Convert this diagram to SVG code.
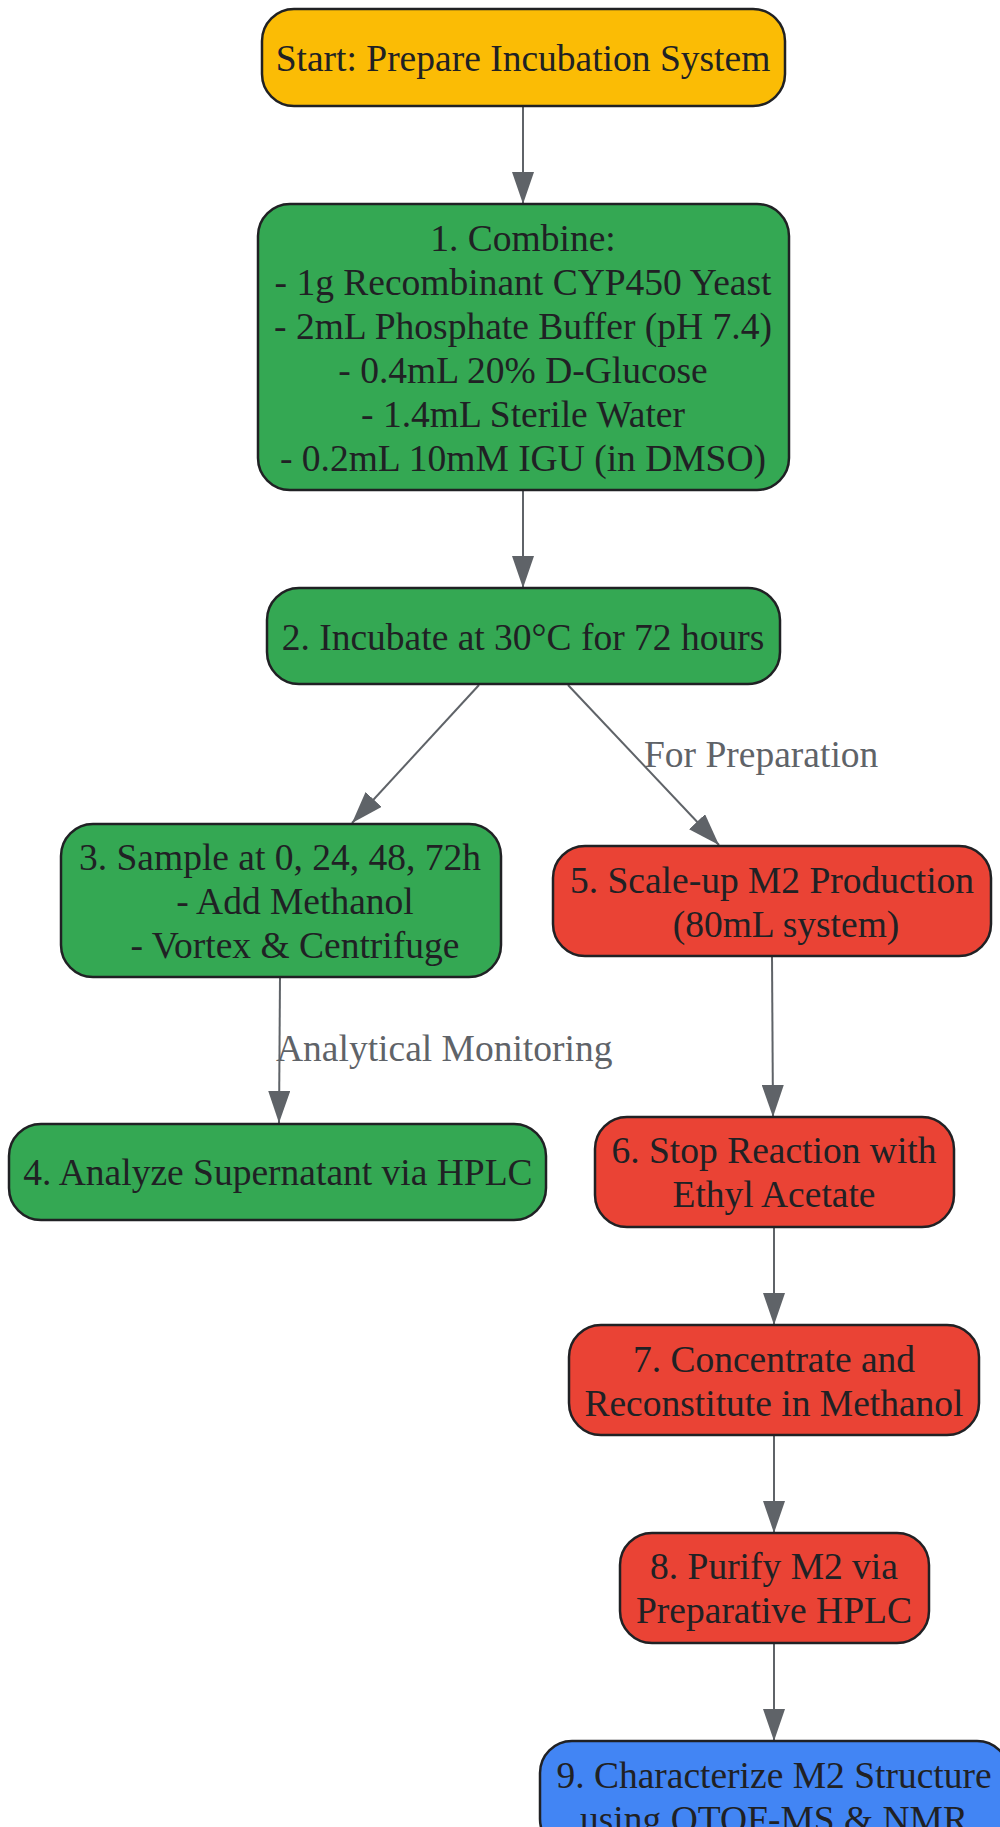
<svg xmlns="http://www.w3.org/2000/svg" width="1000" height="1827" viewBox="0 0 1000 1827">
<defs>
<style>
.n rect{stroke:#202124;stroke-width:2.5}
.n text{font-family:"Liberation Serif","Times New Roman",serif;font-size:37.5px;fill:#202124;text-anchor:middle}
.y rect{fill:#FBBC05}
.g rect{fill:#34A853}
.r rect{fill:#EA4335}
.b rect{fill:#4285F4}
.e path{fill:none;stroke:#5F6368;stroke-width:2;marker-end:url(#ah)}
.e text{font-family:"Liberation Serif","Times New Roman",serif;font-size:37.5px;fill:#5F6368}
</style>
<marker id="ah" viewBox="0 0 32 22" refX="32" refY="11" markerWidth="32" markerHeight="22" markerUnits="userSpaceOnUse" orient="auto">
<path d="M0,0 L32,11 L0,22 Z" fill="#5F6368"/>
</marker>
</defs>
<rect width="1000" height="1827" fill="#FFFFFF"/>
<g id="edges" class="e">
<path d="M523,106 L523,204"/>
<path d="M523,490 L523,588"/>
<path d="M479,685 L352,823"/>
<path d="M568,685 L719,845"/>
<text x="644" y="767">For Preparation</text>
<path d="M280,977 L279,1123"/>
<text x="276" y="1061">Analytical Monitoring</text>
<path d="M772,956 L773,1117"/>
<path d="M774,1227 L774,1325"/>
<path d="M774,1435 L774,1533"/>
<path d="M774,1643 L774,1741"/>
</g>
<g id="start" class="n y">
<rect x="262" y="9" width="523" height="97" rx="32"/>
<text x="523" y="71">Start: Prepare Incubation System</text>
</g>
<g id="n1" class="n g">
<rect x="258" y="204" width="531" height="286" rx="32"/>
<text x="523" y="251">1. Combine:</text>
<text x="523" y="295">- 1g Recombinant CYP450 Yeast</text>
<text x="523" y="339">- 2mL Phosphate Buffer (pH 7.4)</text>
<text x="523" y="383">- 0.4mL 20% D-Glucose</text>
<text x="523" y="427">- 1.4mL Sterile Water</text>
<text x="523" y="471">- 0.2mL 10mM IGU (in DMSO)</text>
</g>
<g id="n2" class="n g">
<rect x="267" y="588" width="513" height="96" rx="32"/>
<text x="523" y="650">2. Incubate at 30°C for 72 hours</text>
</g>
<g id="n3" class="n g">
<rect x="61" y="824" width="440" height="153" rx="32"/>
<text x="280" y="870">3. Sample at 0, 24, 48, 72h</text>
<text x="295" y="914">- Add Methanol</text>
<text x="295" y="958">- Vortex &amp; Centrifuge</text>
</g>
<g id="n4" class="n g">
<rect x="9" y="1124" width="537" height="96" rx="32"/>
<text x="278" y="1185">4. Analyze Supernatant via HPLC</text>
</g>
<g id="n5" class="n r">
<rect x="553" y="846" width="438" height="110" rx="32"/>
<text x="772" y="893">5. Scale-up M2 Production</text>
<text x="786" y="937">(80mL system)</text>
</g>
<g id="n6" class="n r">
<rect x="595" y="1117" width="359" height="110" rx="32"/>
<text x="774" y="1163">6. Stop Reaction with</text>
<text x="774" y="1207">Ethyl Acetate</text>
</g>
<g id="n7" class="n r">
<rect x="569" y="1325" width="410" height="110" rx="32"/>
<text x="774" y="1372">7. Concentrate and</text>
<text x="774" y="1416">Reconstitute in Methanol</text>
</g>
<g id="n8" class="n r">
<rect x="620" y="1533" width="309" height="110" rx="32"/>
<text x="774" y="1579">8. Purify M2 via</text>
<text x="774" y="1623">Preparative HPLC</text>
</g>
<g id="n9" class="n b">
<rect x="540" y="1741" width="469" height="110" rx="32"/>
<text x="774" y="1788">9. Characterize M2 Structure</text>
<text x="774" y="1832">using QTOF-MS &amp; NMR</text>
</g>
</svg>
